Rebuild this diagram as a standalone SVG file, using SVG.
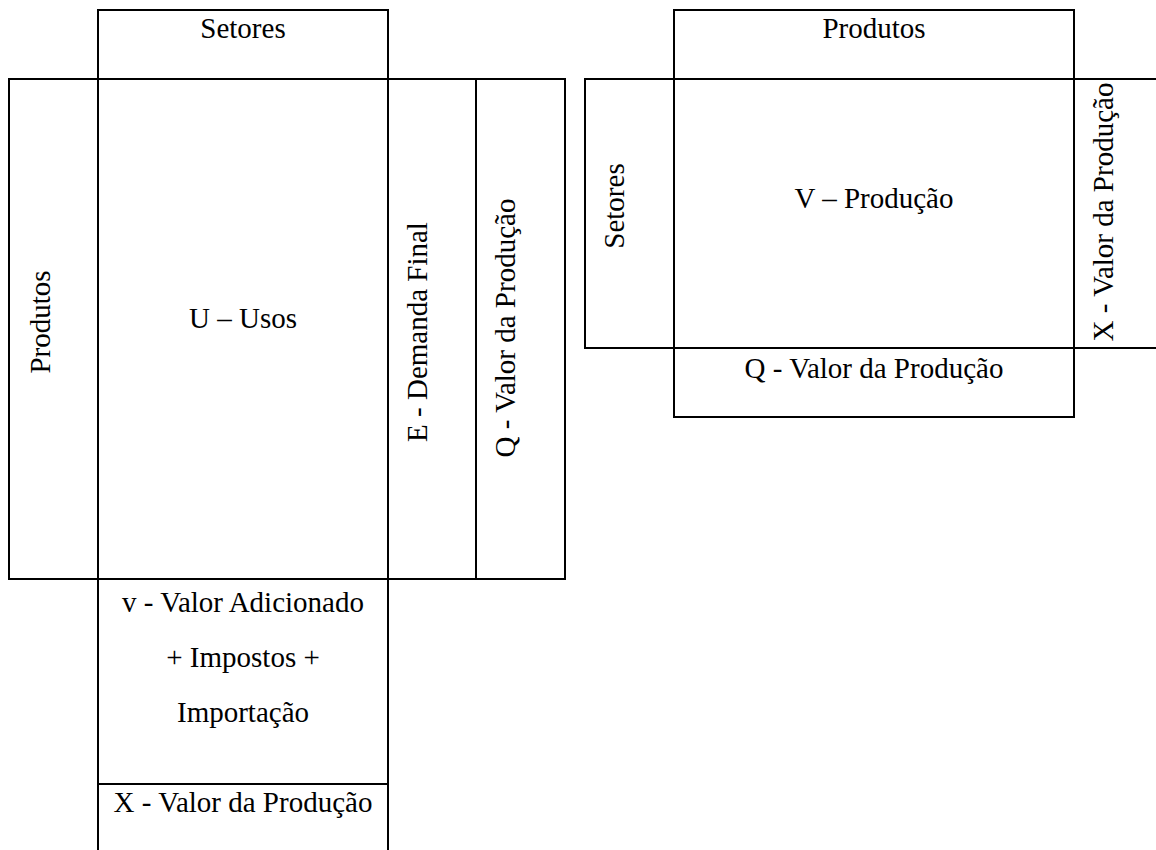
<svg xmlns="http://www.w3.org/2000/svg" width="1156" height="850" viewBox="0 0 1156 850">
<style>
.b{fill:none;stroke:#000;stroke-width:2}
.t{font-size:29px;fill:#000;text-anchor:middle}
</style>
<rect width="1156" height="850" fill="#fff"/>
<g font-family="Liberation Serif, Times New Roman, DejaVu Serif, serif">
<g id="left-table">
  <g id="setores-top"><rect class="b" x="98" y="10" width="290" height="69"/><text class="t" x="243" y="38">Setores</text></g>
  <g id="produtos-left"><rect class="b" x="9" y="79" width="89" height="500"/><text class="t" transform="translate(50,322) rotate(-90)">Produtos</text></g>
  <g id="usos"><rect class="b" x="98" y="79" width="290" height="500"/><text class="t" x="243" y="328">U – Usos</text></g>
  <g id="demanda-final"><rect class="b" x="388" y="79" width="88" height="500"/><text class="t" transform="translate(427,332) rotate(-90)">E - Demanda Final</text></g>
  <g id="q-valor-left"><rect class="b" x="476" y="79" width="89" height="500"/><text class="t" transform="translate(515,328) rotate(-90)">Q - Valor da Produção</text></g>
  <g id="valor-adicionado"><rect class="b" x="98" y="579" width="290" height="205"/>
    <text class="t" x="243" y="612">v - Valor Adicionado</text>
    <text class="t" x="243" y="667">+ Impostos +</text>
    <text class="t" x="243" y="722">Importação</text></g>
  <g id="x-valor-left"><rect class="b" x="98" y="784" width="290" height="80"/><text class="t" x="243" y="812">X - Valor da Produção</text></g>
</g>
<g id="right-table">
  <g id="produtos-top"><rect class="b" x="674" y="10" width="400" height="69"/><text class="t" x="874" y="38">Produtos</text></g>
  <g id="setores-right"><rect class="b" x="585" y="79" width="89" height="269"/><text class="t" transform="translate(624,206) rotate(-90)">Setores</text></g>
  <g id="producao"><rect class="b" x="674" y="79" width="400" height="269"/><text class="t" x="874" y="208">V – Produção</text></g>
  <g id="x-valor-right"><path class="b" d="M1074 79H1160M1074 348H1160"/><text class="t" transform="translate(1113,212) rotate(-90)">X - Valor da Produção</text></g>
  <g id="q-valor-right"><rect class="b" x="674" y="348" width="400" height="69"/><text class="t" x="874" y="378">Q - Valor da Produção</text></g>
</g>
</g>
<g id="connectors"></g>
</svg>
